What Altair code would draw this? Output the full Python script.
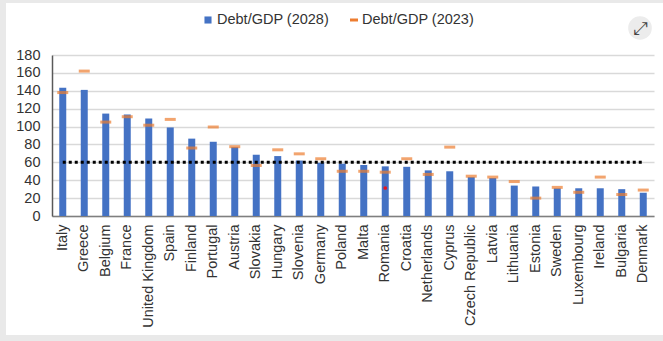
import altair as alt
import pandas as pd

countries = ["Italy", "Greece", "Belgium", "France", "United Kingdom", "Spain", "Finland",
             "Portugal", "Austria", "Slovakia", "Hungary", "Slovenia", "Germany", "Poland",
             "Malta", "Romania", "Croatia", "Netherlands", "Cyprus", "Czech Republic", "Latvia",
             "Lithuania", "Estonia", "Sweden", "Luxembourg", "Ireland", "Bulgaria", "Denmark"]
debt2028 = [143.5, 141, 114.5, 113.5, 109, 99, 86.5, 83, 77, 68.5, 67, 62, 59.5, 58.5,
            57, 55.5, 55, 51, 50, 43.5, 42.5, 34, 33, 31, 31, 31, 30, 26]
debt2023 = [138, 162, 105, 111, 101.5, 108, 76, 99.5, 77.5, 56.5, 74, 69.5, 64, 50,
            50, 49, 64, 46.5, 77, 44.5, 43.5, 38.5, 20, 32, 26.5, 43.5, 24, 29]
threshold = [60] * len(countries)
y_ticks = [0, 20, 40, 60, 80, 100, 120, 140, 160, 180]
legend_labels = ["Debt/GDP (2028)", "Debt/GDP (2023)"]
red_dot_country = ["Romania"]
red_dot_value = [31.3]

df = pd.DataFrame({"country": countries, "d2028": debt2028, "d2023": debt2023, "ref": threshold})
dot_df = pd.DataFrame({"country": red_dot_country, "v": red_dot_value})

BLUE = "#4472C4"
ORANGE = "#ED7D31"
FONT = "Liberation Sans"
FRAME = "#e9e9e9"

xscale = alt.Scale(paddingInner=0, paddingOuter=0)
x_axis = alt.Axis(title=None, labelAngle=-90, ticks=False, labelPadding=8,
                  domainColor="#7f7f7f", domainWidth=1.5, labelColor="#333333",
                  labelFont=FONT, labelFontSize=14.5, labelAlign="right",
                  labelBaseline="middle", labelOverlap=False)
x = alt.X("country:N", sort=countries, scale=xscale, axis=x_axis)
yscale = alt.Scale(domain=[0, 180], nice=False, zero=True)
y_axis = alt.Axis(title=None, values=y_ticks, ticks=False, labelOverlap=False,
                  labelFlush=False, labelPadding=12, domainColor="#595959",
                  domainWidth=1.5, gridColor="#d9d9d9", gridWidth=1.5,
                  labelColor="#333333", labelFont=FONT, labelFontSize=14.5)


def yenc(field):
    return alt.Y(field, type="quantitative", scale=yscale, axis=y_axis)


one = pd.DataFrame({"a": [0]})
# card frame decoration (outside the plot)
frame_left = alt.Chart(one).mark_rect(color=FRAME).encode(
    x=alt.value(-60), x2=alt.value(-46), y=alt.value(-60), y2=alt.value(300))
frame_top = alt.Chart(one).mark_rect(color=FRAME).encode(
    x=alt.value(-60), x2=alt.value(620), y=alt.value(-60), y2=alt.value(-52))
frame_bottom = alt.Chart(one).mark_rect(color=FRAME).encode(
    x=alt.value(-60), x2=alt.value(620), y=alt.value(280), y2=alt.value(300))
icon_bg = alt.Chart(one).mark_point(
    filled=True, color="#ececec", size=560, opacity=1, shape="circle").encode(
    x=alt.value(588), y=alt.value(-27))
icon = alt.Chart(pd.DataFrame({"a": ["⤢"]})).mark_text(
    font="DejaVu Sans", fontSize=18, color="#444444").encode(
    x=alt.value(588), y=alt.value(-26), text="a:N")

bars = alt.Chart(df).mark_bar(size=7, color=BLUE).encode(x=x, y=yenc("d2028"))
ticks = alt.Chart(df).mark_tick(color=ORANGE, size=11, thickness=3, orient="horizontal").encode(
    x=x, y=yenc("d2023"))
ref = alt.Chart(df).mark_line(color="black", strokeDash=[3, 3], strokeWidth=3,
                              strokeCap="butt").encode(x=x, y=yenc("ref"))
dot = alt.Chart(dot_df).mark_point(filled=True, color="#e8141c", size=14, opacity=1).encode(
    x=x, y=yenc("v"))

leg_df = pd.DataFrame({"label": legend_labels})
leg_sq = alt.Chart(leg_df.iloc[[0]]).mark_square(color=BLUE, size=50, opacity=1).encode(
    x=alt.value(156), y=alt.value(-35))
leg_dash = alt.Chart(leg_df.iloc[[1]]).mark_rule(color=ORANGE, strokeWidth=3).encode(
    x=alt.value(298), x2=alt.value(306), y=alt.value(-35))
leg_t1 = alt.Chart(leg_df.iloc[[0]]).mark_text(
    align="left", baseline="middle", font=FONT, fontSize=14.5, color="#333333").encode(
    x=alt.value(165), y=alt.value(-35), text="label:N")
leg_t2 = alt.Chart(leg_df.iloc[[1]]).mark_text(
    align="left", baseline="middle", font=FONT, fontSize=14.5, color="#333333").encode(
    x=alt.value(310), y=alt.value(-35), text="label:N")

chart = alt.layer(bars, ticks, ref, dot, frame_left, frame_top, frame_bottom,
                  icon_bg, icon, leg_sq, leg_dash, leg_t1, leg_t2).properties(
    width=602, height=161,
    autosize=alt.AutoSizeParams(type="none"),
    padding={"left": 52, "top": 55, "right": 9, "bottom": 125},
    background="white",
).configure_view(stroke=None)

chart.save("out.html", embed_options={"renderer": "svg", "actions": False})
